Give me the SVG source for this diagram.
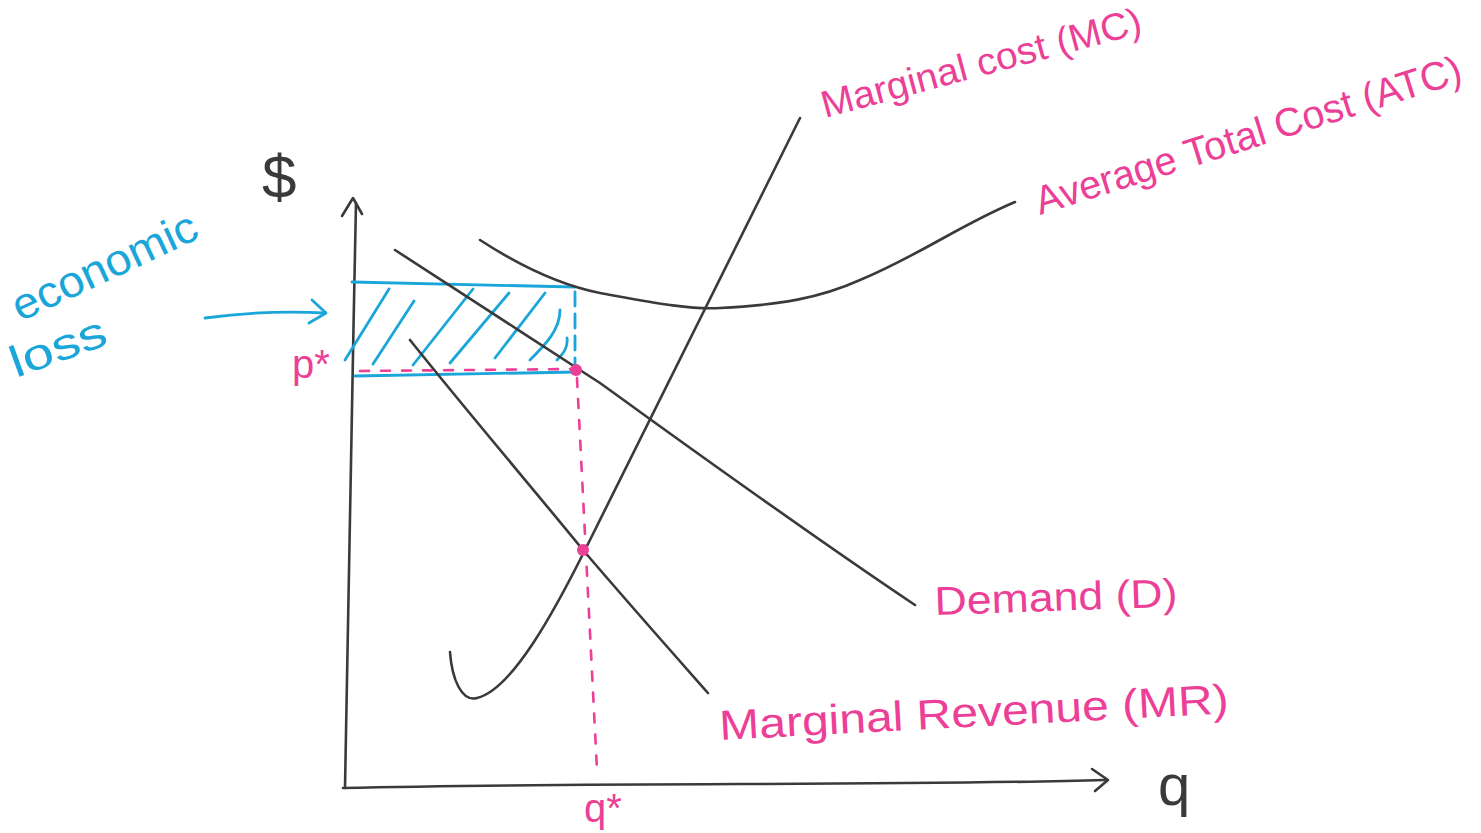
<svg xmlns="http://www.w3.org/2000/svg" width="1481" height="833" viewBox="0 0 1481 833">
<style>
.ink{fill:none;stroke:#3a3a3a;stroke-width:2.6;stroke-linecap:round;stroke-linejoin:round}
.blue{fill:none;stroke:#1ba6d9;stroke-width:2.8;stroke-linecap:round;stroke-linejoin:round}
.pinkd{fill:none;stroke:#ec3f97;stroke-width:2.6;stroke-linecap:round;stroke-dasharray:9 12}
.pt{fill:#ec3f97;font-family:"Liberation Sans",Arial,sans-serif}
.bt{fill:#1ba6d9;font-family:"Liberation Sans",Arial,sans-serif}
.kt{fill:#3a3a3a;font-family:"Liberation Sans",Arial,sans-serif}
</style>
<rect width="1481" height="833" fill="#ffffff"/>
<g id="axes">
<path class="ink" d="M356,203 C352,400 348,600 345,788"/>
<path class="ink" d="M342,216 L353,198 L362,214"/>
<path class="ink" d="M343,788 C600,782 900,786 1105,780"/>
<path class="ink" d="M1092,769 L1108,780 L1095,791"/>
<text class="kt" x="262" y="198" font-size="62">$</text>
<text class="kt" x="1158" y="805" font-size="58">q</text>
</g>
<g id="loss-area">
<path class="blue" d="M352,282 L575,287"/>
<path class="blue" d="M355,376 L578,372"/>
<path class="blue" d="M575,292 L575,370" stroke-dasharray="14 8"/>
<path class="blue" d="M345,360 L389,289 M373,364 L414,301 M413,365 L473,289 M450,363 L509,293 M495,358 L545,293 M530,360 C545,345 560,330 560,310 M557,360 C565,352 568,346 567,338"/>
</g>
<g id="connectors">
<path class="pinkd" d="M360,371 L575,369"/>
<path class="pinkd" d="M577,378 L597,770"/>
<path class="blue" d="M205,318 C250,312 290,311 325,313"/>
<path class="blue" d="M312,300 L326,313 L309,323"/>
</g>
<g id="atc">
<path class="ink" d="M480,240 C520,266 560,285 600,293 C650,302 690,310 720,308 C780,305 820,298 860,280 C920,255 960,225 1015,202"/>
</g>
<g id="mc">
<path class="ink" d="M450,652 C452,680 462,702 477,698 C512,690 555,610 585,550 C630,460 700,320 800,118"/>
</g>
<g id="demand">
<path class="ink" d="M395,250 C470,298 530,338 600,383 C700,455 800,528 915,605"/>
</g>
<g id="mr">
<path class="ink" d="M410,340 C470,415 530,485 583,550 C630,605 670,650 708,693"/>
</g>
<g id="points">
<circle cx="576" cy="370" r="6" fill="#ec3f97"/>
<circle cx="583" cy="550" r="6" fill="#ec3f97"/>
</g>
<g id="labels">
<text class="pt" x="825" y="118" font-size="38" transform="rotate(-15 825 118)" textLength="330" lengthAdjust="spacingAndGlyphs">Marginal cost (MC)</text>
<text class="pt" x="1040" y="215" font-size="40" transform="rotate(-17.5 1040 215)" textLength="445" lengthAdjust="spacingAndGlyphs">Average Total Cost (ATC)</text>
<text class="pt" x="935" y="615" font-size="40" transform="rotate(-2 935 615)" textLength="243" lengthAdjust="spacingAndGlyphs">Demand (D)</text>
<text class="pt" x="720" y="740" font-size="42" transform="rotate(-3 720 740)" textLength="510" lengthAdjust="spacingAndGlyphs">Marginal Revenue (MR)</text>
<text class="pt" x="292" y="378" font-size="40">p*</text>
<text class="pt" x="584" y="822" font-size="40">q*</text>
<text class="bt" x="20" y="322" font-size="44" transform="rotate(-25 20 322)" textLength="200" lengthAdjust="spacingAndGlyphs">economic</text>
<text class="bt" x="16" y="378" font-size="44" transform="rotate(-20 16 378)" textLength="100" lengthAdjust="spacingAndGlyphs">loss</text>
</g>
</svg>
